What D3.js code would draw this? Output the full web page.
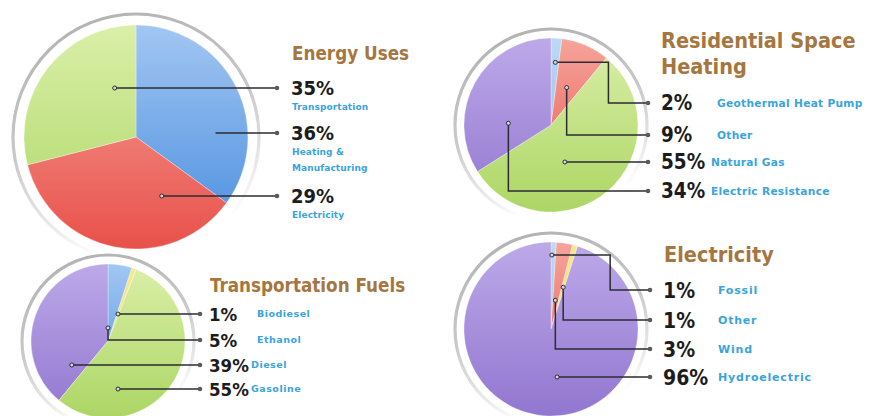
<!DOCTYPE html>
<html>
<head>
<meta charset="utf-8">
<script src="https://cdn.jsdelivr.net/npm/d3@7"></script>
<style>
  html, body { margin: 0; padding: 0; background: #ffffff; }
  svg { display: block; }
</style>
</head>
<body>
<svg id="chart" width="871" height="416"></svg>
<script>
// ---- Data -------------------------------------------------------------
// Energy Uses
const energyCategories = ["Transportation", "Heating & Manufacturing", "Electricity"];
const energyValues = [35, 36, 29];

// Residential Space Heating
const heatingCategories = ["Geothermal Heat Pump", "Other", "Natural Gas", "Electric Resistance"];
const heatingValues = [2, 9, 55, 34];

// Transportation Fuels
const fuelCategories = ["Biodiesel", "Ethanol", "Diesel", "Gasoline"];
const fuelValues = [1, 5, 39, 55];

// Electricity
const electricityCategories = ["Fossil", "Other", "Wind", "Hydroelectric"];
const electricityValues = [1, 1, 3, 96];

// ---- Styles -----------------------------------------------------------
const palette = {
  blue:   ["#a3c6f3", "#468cdd"],
  red:    ["#f6a49b", "#e8514a"],
  green:  ["#daefa8", "#acd664"],
  purple: ["#bda9e9", "#9276cf"],
  yellow: ["#f6ea92", "#edd25c"],
  sky:    ["#bcdaf6", "#7db2ea"]
};
const titleColor = "#a5763f";
const nameColor = "#3aa4dc";
const pctColor = "#1c1c1c";
const leaderColor = "#2b2b33";

// ---- Panel layout -----------------------------------------------------
const panels = [
  {
    id: "energy", title: ["Energy Uses"], titleX: 292, titleY: 60, titleSize: 18.7,
    categories: energyCategories, values: energyValues,
    colors: ["blue", "red", "green"], order: [0, 1, 2],
    cx: 136, cy: 137, r: 112, ringGap: 11,
    rowY: [88, 133, 196], dotX: 277, pctX: 291, pctSize: 20,
    nameBelow: true, nameSize: 9, nameSpacing: 0.1, wrap: 84,
    leaders: [{ kind: "h", fx: -0.19 }, { kind: "h", fx: 0.71, bare: true }, { kind: "h", fx: 0.23 }]
  },
  {
    id: "heating", title: ["Residential Space", "Heating"], titleX: 661, titleY: 48, titleSize: 21.5,
    categories: heatingCategories, values: heatingValues,
    colors: ["sky", "red", "green", "purple"], order: [0, 1, 2, 3],
    cx: 551, cy: 125, r: 87, ringGap: 9,
    rowY: [103, 135, 162, 191], dotX: 648, pctX: 661, pctSize: 20.5,
    nameBelow: false, nameSize: 10.6, nameSpacing: 0.3, nameDxShort: 56, nameDxLong: 50,
    leaders: [
      { kind: "hvh", fx: 0.05, fy: -0.72, ex: 0.66 },
      { kind: "vh", fx: 0.18, fy: -0.43 },
      { kind: "h", fx: 0.16 },
      { kind: "vh", fx: -0.49, fy: -0.02 }
    ]
  },
  {
    id: "fuels", title: ["Transportation Fuels"], titleX: 210, titleY: 292, titleSize: 18.7,
    categories: fuelCategories, values: fuelValues,
    colors: ["yellow", "blue", "purple", "green"], order: [1, 0, 3, 2],
    cx: 108, cy: 341, r: 77, ringGap: 9,
    rowY: [314, 340, 365, 389], dotX: 200, pctX: 209, pctSize: 18.5,
    nameBelow: false, nameSize: 9.5, nameSpacing: 0.5, nameDxShort: 48, nameDxLong: 42,
    leaders: [
      { kind: "h", fx: 0.13 },
      { kind: "vh", fx: 0.0, fy: -0.17 },
      { kind: "h", fx: -0.47 },
      { kind: "h", fx: 0.13 }
    ]
  },
  {
    id: "electricity", title: ["Electricity"], titleX: 664, titleY: 262, titleSize: 21.5,
    categories: electricityCategories, values: electricityValues,
    colors: ["sky", "yellow", "red", "purple"], order: [0, 2, 1, 3],
    cx: 551, cy: 329, r: 87, ringGap: 9,
    rowY: [290, 320, 349, 377], dotX: 650, pctX: 663, pctSize: 21,
    nameBelow: false, nameSize: 11, nameSpacing: 0.8, nameDxShort: 55, nameDxLong: 55,
    leaders: [
      { kind: "hvh", fx: 0.01, fy: -0.85, ex: 0.68 },
      { kind: "vh", fx: 0.14, fy: -0.48 },
      { kind: "vh", fx: 0.05, fy: -0.33 },
      { kind: "h", fx: 0.07 }
    ]
  }
];

// ---- Drawing ----------------------------------------------------------
const svg = d3.select("#chart");
const defs = svg.append("defs");

function wrapText(textSel, width, lineHeight) {
  const words = textSel.text().split(/\s+/);
  const x = textSel.attr("x");
  textSel.text(null);
  let line = [];
  let tspan = textSel.append("tspan").attr("x", x).attr("dy", 0);
  words.forEach(w => {
    line.push(w);
    tspan.text(line.join(" "));
    if (tspan.node().getComputedTextLength() > width && line.length > 1) {
      line.pop();
      tspan.text(line.join(" "));
      line = [w];
      tspan = textSel.append("tspan").attr("x", x).attr("dy", lineHeight).text(w);
    }
  });
}

panels.forEach(p => {
  const g = svg.append("g").attr("class", "panel " + p.id);

  // slice gradients, in the pie's local coordinates (centre at 0,0)
  p.colors.forEach(c => {
    const gid = `${p.id}-${c}`;
    if (!defs.select("#" + gid).empty()) return;
    const lg = defs.append("linearGradient").attr("id", gid)
      .attr("gradientUnits", "userSpaceOnUse")
      .attr("x1", 0).attr("x2", 0)
      .attr("y1", -p.r).attr("y2", p.r);
    lg.append("stop").attr("offset", "0%").attr("stop-color", palette[c][0]);
    lg.append("stop").attr("offset", "100%").attr("stop-color", palette[c][1]);
  });

  // rim gradient: grey at the top, fading out towards the bottom
  const R = p.r + p.ringGap;
  const rim = defs.append("linearGradient").attr("id", `${p.id}-rim`)
    .attr("gradientUnits", "userSpaceOnUse")
    .attr("x1", p.cx - R * 0.3).attr("x2", p.cx + R * 0.3)
    .attr("y1", p.cy - R).attr("y2", p.cy + R);
  rim.append("stop").attr("offset", "0%").attr("stop-color", "#b3b3b3");
  rim.append("stop").attr("offset", "45%").attr("stop-color", "#c9c9c9");
  rim.append("stop").attr("offset", "78%").attr("stop-color", "#eeeeee");
  rim.append("stop").attr("offset", "90%").attr("stop-color", "#ffffff");

  g.append("circle")
    .attr("cx", p.cx).attr("cy", p.cy).attr("r", R)
    .attr("fill", "none")
    .attr("stroke", `url(#${p.id}-rim)`)
    .attr("stroke-width", 3.2);

  // pie slices
  const data = p.categories.map((c, i) => ({ name: c, value: p.values[i], i }));
  const pie = d3.pie()
    .value(d => d.value)
    .sort((a, b) => p.order.indexOf(a.i) - p.order.indexOf(b.i));
  const arc = d3.arc().innerRadius(0).outerRadius(p.r);

  g.append("g").attr("transform", `translate(${p.cx},${p.cy})`)
    .selectAll("path")
    .data(pie(data))
    .join("path")
    .attr("d", arc)
    .attr("fill", d => `url(#${p.id}-${p.colors[d.data.i]})`)
    .attr("stroke", "rgba(255,255,255,0.45)")
    .attr("stroke-width", 0.7);

  // leader lines from the slices to the labels
  const lg = g.append("g").attr("class", "leaders");
  p.leaders.forEach((ld, i) => {
    const y = p.rowY[i];
    let pts, sx, sy;
    if (ld.kind === "h") {
      sx = p.cx + ld.fx * p.r; sy = y;
      pts = [[sx, sy], [p.dotX, y]];
    } else if (ld.kind === "vh") {
      sx = p.cx + ld.fx * p.r; sy = p.cy + ld.fy * p.r;
      pts = [[sx, sy], [sx, y], [p.dotX, y]];
    } else {
      sx = p.cx + ld.fx * p.r; sy = p.cy + ld.fy * p.r;
      const ex = p.cx + ld.ex * p.r;
      pts = [[sx, sy], [ex, sy], [ex, y], [p.dotX, y]];
    }
    lg.append("path")
      .attr("d", d3.line()(pts))
      .attr("fill", "none")
      .attr("stroke", leaderColor)
      .attr("stroke-width", 1.5);
    if (!ld.bare) {
      lg.append("circle").attr("cx", sx).attr("cy", sy).attr("r", 2)
        .attr("fill", "#d8d8e0").attr("stroke", leaderColor).attr("stroke-width", 1);
    }
    lg.append("circle").attr("cx", p.dotX).attr("cy", y).attr("r", 2.3)
      .attr("fill", "#5a5a5a");
  });

  // title
  const t = g.append("text")
    .attr("x", p.titleX).attr("y", p.titleY)
    .attr("font-family", "'DejaVu Sans Condensed', 'DejaVu Sans', sans-serif")
    .attr("font-weight", "bold")
    .attr("font-size", p.titleSize)
    .attr("fill", titleColor);
  p.title.forEach((line, k) => {
    t.append("tspan").attr("x", p.titleX).attr("dy", k === 0 ? 0 : p.titleSize * 1.2).text(line);
  });

  // percentages and category names
  data.forEach((d, i) => {
    const y = p.rowY[i];
    const base = y + p.pctSize * 0.36;
    const pctText = d.value + "%";
    g.append("text")
      .attr("x", p.pctX).attr("y", base)
      .attr("font-family", "'DejaVu Sans Condensed', 'DejaVu Sans', sans-serif")
      .attr("font-weight", "bold")
      .attr("font-size", p.pctSize)
      .attr("fill", pctColor)
      .text(pctText);

    const nm = g.append("text")
      .attr("font-family", "'DejaVu Sans', sans-serif")
      .attr("font-weight", "bold")
      .attr("font-size", p.nameSize)
      .attr("letter-spacing", p.nameSpacing)
      .attr("fill", nameColor)
      .text(d.name);
    if (p.nameBelow) {
      nm.attr("x", p.pctX + 1).attr("y", base + 15);
      wrapText(nm, p.wrap, p.nameSize * 1.75);
    } else {
      const dx = pctText.length > 2 ? p.nameDxLong : p.nameDxShort;
      nm.attr("x", p.pctX + dx).attr("y", y + p.nameSize * 0.36);
    }
  });
});
</script>
</body>
</html>
